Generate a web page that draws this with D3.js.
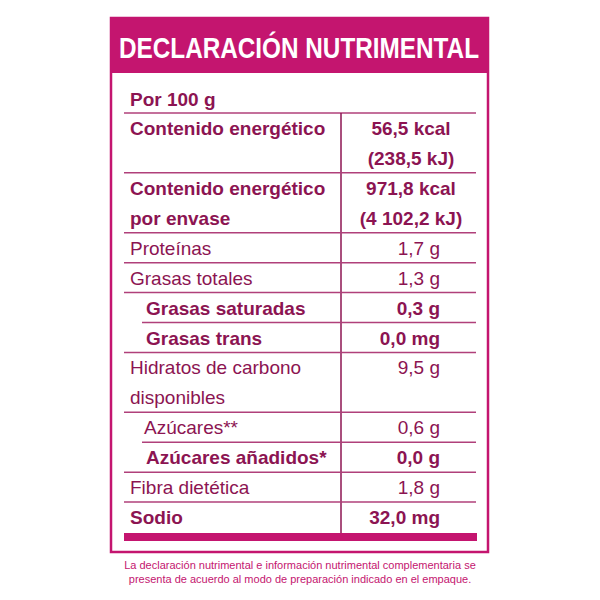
<!DOCTYPE html><html><head><meta charset="utf-8"><script src="https://cdn.jsdelivr.net/npm/d3@7"></script>
<style>body{margin:0;background:#fff}</style></head><body><svg id="c" width="600" height="600"></svg>
<script>
const title = "DECLARACIÓN NUTRIMENTAL";
const perLabel = "Por 100 g";
const labels = [["Contenido energético"],["Contenido energético","por envase"],["Proteínas"],["Grasas totales"],["Grasas saturadas"],["Grasas trans"],["Hidratos de carbono","disponibles"],["Azúcares**"],["Azúcares añadidos*"],["Fibra dietética"],["Sodio"]];
const values = [["56,5 kcal","(238,5 kJ)"],["971,8 kcal","(4 102,2 kJ)"],["1,7 g"],["1,3 g"],["0,3 g"],["0,0 mg"],["9,5 g"],["0,6 g"],["0,0 g"],["1,8 g"],["32,0 mg"]];
const bold = [1,1,0,0,1,1,0,0,1,0,1];
const sub = [0,0,0,0,1,1,0,1,1,0,0];
const centered = [1,1,0,0,0,0,0,0,0,0,0];
const footnote = ["La declaración nutrimental e información nutrimental complementaria se","presenta de acuerdo al modo de preparación indicado en el empaque."];

const svg = d3.select("#c");
const head="#c4156f", ink="#8c1452", line="#b0407a";
const L=124,R=476,D=341;
const lines = labels.map((l,i)=>Math.max(l.length,values[i].length));
const starts=[0]; lines.forEach((n,i)=>starts.push(starts[i]+n));
const y = d3.scaleLinear().domain([0,starts[starts.length-1]]).range([113,532]);
const F="Liberation Sans Narrow, Liberation Sans, Arial";
svg.append("rect").attr("x",111).attr("y",18).attr("width",377).attr("height",534).attr("fill","none").attr("stroke",head).attr("stroke-width",2.5);
svg.append("rect").attr("x",110).attr("y",17).attr("width",379).attr("height",56).attr("fill",head);
svg.append("text").text(title).attr("x",119).attr("y",58).attr("fill","#fff").attr("font-family",F).attr("font-weight","bold").attr("font-size",30).attr("textLength",360).attr("lengthAdjust","spacingAndGlyphs");
svg.append("text").text(perLabel).attr("x",130).attr("y",106).attr("fill",ink).attr("font-family",F).attr("font-weight","bold").attr("font-size",19);
svg.append("line").attr("x1",L).attr("x2",R).attr("y1",113).attr("y2",113).attr("stroke",line).attr("stroke-width",1.5);
svg.append("line").attr("x1",D).attr("x2",D).attr("y1",113).attr("y2",533).attr("stroke",ink).attr("stroke-width",1.5);
labels.forEach((lab,i)=>{
  const y0=y(starts[i]);
  if(i>0){
    const x1 = (sub[i]&&sub[i-1])?142:L;
    svg.append("line").attr("x1",x1).attr("x2",R).attr("y1",y0).attr("y2",y0).attr("stroke",line).attr("stroke-width",1.5);
  }
  lab.forEach((t,k)=>svg.append("text").text(t).attr("x",sub[i]?(bold[i]?146:144):130).attr("y",y(starts[i]+k)+22)
    .attr("fill",ink).attr("font-family",F).attr("font-weight",bold[i]?"bold":"normal").attr("font-size",19));
  values[i].forEach((t,k)=>svg.append("text").text(t).attr("x",centered[i]?411:440).attr("y",y(starts[i]+k)+22)
    .attr("text-anchor",centered[i]?"middle":"end")
    .attr("fill",ink).attr("font-family",F).attr("font-weight",bold[i]?"bold":"normal").attr("font-size",19));
});
svg.append("rect").attr("x",L).attr("y",533).attr("width",R-L+1).attr("height",8).attr("fill",head);
footnote.forEach((t,k)=>svg.append("text").text(t).attr("x",300).attr("y",569+k*14).attr("text-anchor","middle").attr("fill",head).attr("font-family",F).attr("font-size",11));
</script></body></html>
